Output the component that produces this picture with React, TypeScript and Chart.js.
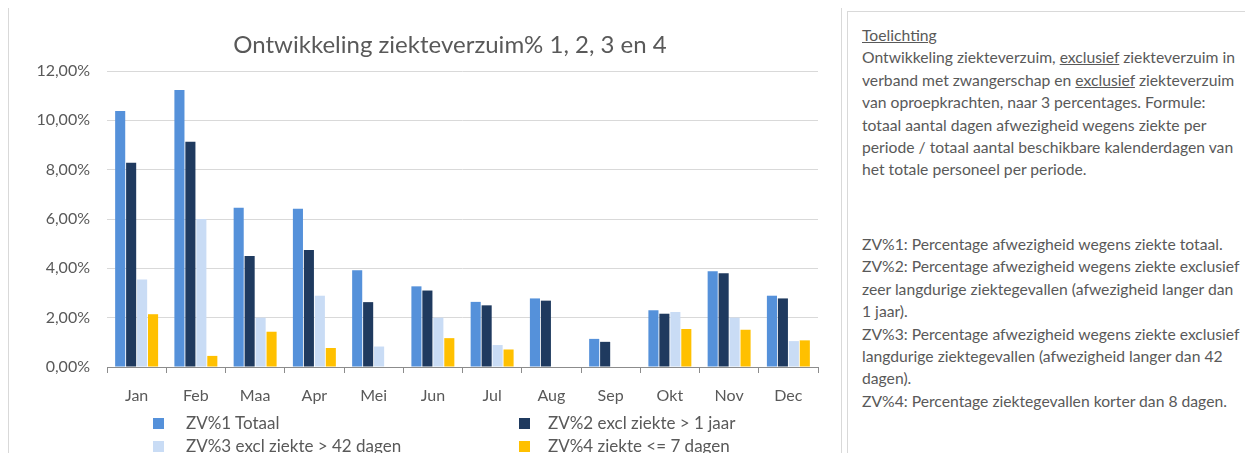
import React, { useEffect, useRef } from "react";
import { Chart, registerables } from "chart.js";

Chart.register(...registerables);

const months = ["Jan", "Feb", "Maa", "Apr", "Mei", "Jun", "Jul", "Aug", "Sep", "Okt", "Nov", "Dec"];
const zv1 = [10.38, 11.23, 6.46, 6.42, 3.92, 3.27, 2.64, 2.78, 1.14, 2.3, 3.88, 2.89];
const zv2 = [8.28, 9.13, 4.5, 4.74, 2.63, 3.1, 2.5, 2.69, 1.02, 2.16, 3.8, 2.78];
const zv3 = [3.55, 6.0, 2.0, 2.89, 0.83, 2.0, 0.89, 0, 0, 2.23, 2.0, 1.05];
const zv4 = [2.14, 0.45, 1.43, 0.77, 0, 1.17, 0.71, 0, 0, 1.54, 1.51, 1.08];
const seriesLabels = [
  "ZV%1 Totaal",
  "ZV%2 excl ziekte > 1 jaar",
  "ZV%3 excl ziekte > 42 dagen",
  "ZV%4 ziekte <= 7 dagen",
];
const seriesColors = ["#5591DA", "#1F3A5F", "#C9DCF5", "#FFC000"];
const yMin = 0;
const yMax = 12;
const yStep = 2;
const chartTitle = "Ontwikkeling ziekteverzuim% 1, 2, 3 en 4";

const FONT = "Lato, 'Open Sans', sans-serif";
const GREY = "#595959";

const titlePlugin = {
  id: "customTitle",
  afterDraw(chart: any) {
    const ctx = chart.ctx;
    ctx.save();
    ctx.fillStyle = GREY;
    ctx.font = `24px ${FONT}`;
    ctx.textAlign = "center";
    ctx.textBaseline = "middle";
    ctx.fillText(chartTitle, 441, 39);
    ctx.restore();
  },
};

export default function App() {
  const ref = useRef<HTMLCanvasElement | null>(null);

  useEffect(() => {
    if (!ref.current) return;
    const seriesValues = [zv1, zv2, zv3, zv4];
    const chart = new Chart(ref.current, {
      type: "bar",
      data: {
        labels: months,
        datasets: seriesValues.map((vals, i) => ({
          label: seriesLabels[i],
          data: vals,
          backgroundColor: seriesColors[i],
          borderWidth: 0,
          categoryPercentage: 0.74,
          barPercentage: 0.92,
        })),
      },
      plugins: [titlePlugin],
      options: {
        animation: false,
        responsive: false,
        maintainAspectRatio: false,
        layout: { padding: { left: 0, right: 24, top: 65, bottom: 54 } },
        plugins: {
          legend: { display: false },
          tooltip: { enabled: false },
          title: { display: false },
        },
        scales: {
          x: {
            grid: {
              display: true,
              drawOnChartArea: false,
              drawTicks: true,
              tickLength: 6,
              color: "#8C8C8C",
              offset: true,
            },
            border: { display: true, color: "#8C8C8C", width: 1 },
            ticks: {
              color: GREY,
              padding: 13,
              font: { family: FONT, size: 16 },
              maxRotation: 0,
            },
            afterFit: (s: any) => {
              s.height = 40;
            },
          },
          y: {
            min: yMin,
            max: yMax,
            grid: { color: "#D9D9D9", drawTicks: false, lineWidth: 1 },
            border: { display: false },
            ticks: {
              stepSize: yStep,
              color: GREY,
              padding: 17,
              font: { family: FONT, size: 16 },
              callback: (v: any) => Number(v).toFixed(2).replace(".", ",") + "%",
            },
            afterFit: (s: any) => {
              s.width = 98;
            },
          },
        },
      },
    });
    return () => chart.destroy();
  }, []);

  const legendPos = [
    { mx: 153, tx: 186, y: 423 },
    { mx: 519, tx: 548, y: 423 },
    { mx: 153, tx: 186, y: 446 },
    { mx: 519, tx: 548, y: 446 },
  ];

  const textStyle: React.CSSProperties = {
    position: "absolute",
    left: 862,
    color: GREY,
    fontFamily: FONT,
    fontSize: 15.7,
    lineHeight: "22.4px",
    whiteSpace: "nowrap",
  };

  return (
    <div style={{ position: "relative", width: 1253, height: 461, overflow: "hidden", margin: -8 }}>
      <div
        style={{
          position: "absolute",
          left: 8,
          top: 5,
          width: 834,
          height: 470,
          border: "1px solid #D9D9D9",
          boxSizing: "border-box",
          background: "#fff",
        }}
      />
      <canvas
        ref={ref}
        width={833}
        height={455}
        style={{ position: "absolute", left: 9, top: 6, width: 833, height: 455 }}
      />
      {seriesLabels.map((lab, i) => (
        <React.Fragment key={lab}>
          <div
            style={{
              position: "absolute",
              left: legendPos[i].mx,
              top: legendPos[i].y - 5.5,
              width: 11,
              height: 11,
              background: seriesColors[i],
            }}
          />
          <div
            style={{
              position: "absolute",
              left: legendPos[i].tx,
              top: legendPos[i].y - 11,
              height: 22,
              lineHeight: "22px",
              color: GREY,
              fontFamily: FONT,
              fontSize: 17,
              whiteSpace: "nowrap",
            }}
          >
            {lab}
          </div>
        </React.Fragment>
      ))}
      <div
        style={{
          position: "absolute",
          left: 847,
          top: 11,
          width: 420,
          height: 470,
          border: "1px solid #D9D9D9",
          boxSizing: "border-box",
        }}
      />
      <div style={{ ...textStyle, top: 24 }}>
        <u>Toelichting</u>
        <br />
        Ontwikkeling ziekteverzuim, <u>exclusief</u> ziekteverzuim in
        <br />
        verband met zwangerschap en <u>exclusief</u> ziekteverzuim
        <br />
        van oproepkrachten, naar 3 percentages. Formule:
        <br />
        totaal aantal dagen afwezigheid wegens ziekte per
        <br />
        periode / totaal aantal beschikbare kalenderdagen van
        <br />
        het totale personeel per periode.
      </div>
      <div style={{ ...textStyle, top: 233 }}>
        ZV%1: Percentage afwezigheid wegens ziekte totaal.
        <br />
        ZV%2: Percentage afwezigheid wegens ziekte exclusief
        <br />
        zeer langdurige ziektegevallen (afwezigheid langer dan
        <br />
        1 jaar).
        <br />
        ZV%3: Percentage afwezigheid wegens ziekte exclusief
        <br />
        langdurige ziektegevallen (afwezigheid langer dan 42
        <br />
        dagen).
        <br />
        ZV%4: Percentage ziektegevallen korter dan 8 dagen.
      </div>
    </div>
  );
}
